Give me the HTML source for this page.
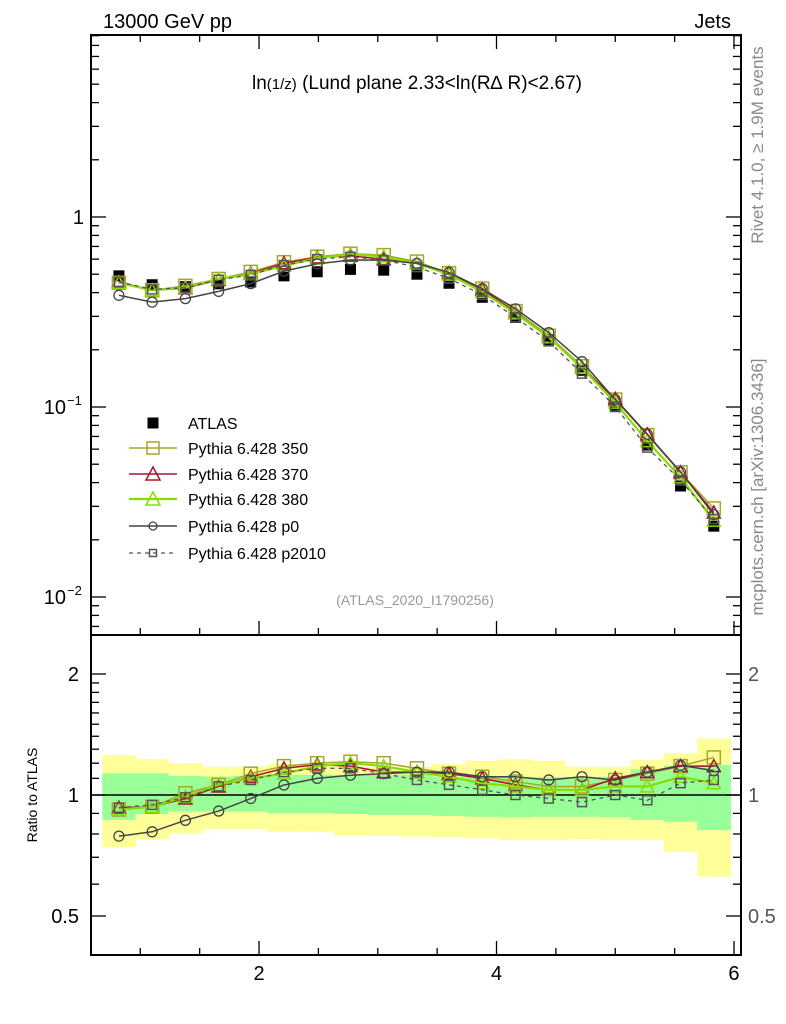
<!DOCTYPE html>
<html><head><meta charset="utf-8"><style>
html,body{margin:0;padding:0;background:#fff;}
svg{display:block;font-family:"Liberation Sans",Arial,sans-serif;}
</style></head><body>
<svg id="chart" width="786" height="1024" viewBox="0 0 786 1024" xmlns="http://www.w3.org/2000/svg">
<rect x="0" y="0" width="786" height="1024" fill="#fff"/>
<g id="bands"></g>
<g id="axes"></g>
<g id="series"></g>
<text x="103" y="28" font-size="20">13000 GeV pp</text>
<text x="731" y="28" font-size="20" text-anchor="end">Jets</text>
<text x="417" y="89" font-size="19" text-anchor="middle">ln<tspan font-size="15">(1/z)</tspan> (Lund plane 2.33&lt;ln(R∆ R)&lt;2.67)</text>
<text x="415" y="605" font-size="14" fill="#999" text-anchor="middle">(ATLAS_2020_I1790256)</text>
<text transform="translate(763,145) rotate(-90)" font-size="17" fill="#888" text-anchor="middle">Rivet 4.1.0, ≥ 1.9M events</text>
<text transform="translate(763,487) rotate(-90)" font-size="17" fill="#888" text-anchor="middle">mcplots.cern.ch [arXiv:1306.3436]</text>
<text transform="translate(37,795) rotate(-90)" font-size="14" text-anchor="middle">Ratio to ATLAS</text>
<g id="legend"></g>
</svg>
<script>
const xCenters = [0.82,1.10,1.38,1.66,1.93,2.21,2.49,2.77,3.05,3.33,3.60,3.88,4.16,4.44,4.72,5.00,5.27,5.55,5.83];
const atlas = [0.49,0.44,0.43,0.445,0.455,0.49,0.515,0.53,0.525,0.50,0.448,0.378,0.296,0.226,0.156,0.1004,0.063,0.0384,0.0236];
const r350 = [0.92,0.935,1.01,1.06,1.13,1.18,1.2,1.21,1.2,1.165,1.13,1.11,1.08,1.05,1.05,1.09,1.13,1.18,1.24];
const r370 = [0.93,0.935,0.98,1.05,1.11,1.165,1.19,1.18,1.14,1.14,1.13,1.10,1.06,1.03,1.03,1.10,1.14,1.18,1.18];
const r380 = [0.92,0.935,0.99,1.06,1.10,1.13,1.18,1.2,1.18,1.14,1.11,1.07,1.05,1.03,1.03,1.05,1.05,1.11,1.07];
const rp0 = [0.79,0.81,0.865,0.912,0.98,1.059,1.10,1.12,1.13,1.14,1.14,1.11,1.11,1.09,1.11,1.09,1.14,1.185,1.15];
const rp2010 = [0.93,0.945,0.987,1.05,1.09,1.14,1.165,1.165,1.13,1.09,1.06,1.03,1.0,0.98,0.96,1.0,0.97,1.07,1.09];
const yellowHi = [1.257,1.227,1.199,1.176,1.176,1.194,1.194,1.176,1.176,1.176,1.194,1.217,1.227,1.217,1.176,1.176,1.222,1.27,1.383];
const yellowLo = [0.741,0.776,0.803,0.822,0.822,0.81,0.81,0.795,0.79,0.788,0.785,0.78,0.773,0.773,0.776,0.773,0.773,0.722,0.626];
const greenHi = [1.132,1.132,1.115,1.111,1.115,1.123,1.123,1.123,1.123,1.123,1.111,1.111,1.107,1.107,1.107,1.111,1.159,1.181,1.188];
const greenLo = [0.867,0.897,0.909,0.909,0.909,0.90,0.90,0.897,0.892,0.892,0.887,0.883,0.88,0.883,0.883,0.88,0.867,0.858,0.818];
const xTicks = [2,4,6];
const mainTicks = [0.01,0.1,1];
const mainTickLabels = ["10","10","1"];
const mainTickExp = ["−2","−1",""];
const ratioTicks = [0.5,1,2];
const ratioTickLabels = ["0.5","1","2"];

const NS="http://www.w3.org/2000/svg";
const L=91,R=741,T=35,MB=635,RB=955;
const X0=0.585,X1=6.059;
const sx=v=>L+(v-X0)/(X1-X0)*(R-L);
const sy=v=>217-Math.log10(v)*190;
const sr=v=>795-Math.log10(v)*402;
function mk(tag,attrs,parent){const e=document.createElementNS(NS,tag);for(const k in attrs)e.setAttribute(k,attrs[k]);parent.appendChild(e);return e;}
const axes=document.getElementById('axes'),series=document.getElementById('series'),bands=document.getElementById('bands'),legend=document.getElementById('legend');
const bw=(xCenters[1]-xCenters[0]);

for(let i=0;i<xCenters.length;i++){
  const x0=sx(xCenters[i]-bw/2),x1=sx(xCenters[i]+bw/2);
  const y=mk('rect',{x:x0,y:sr(yellowHi[i]),width:x1-x0+0.5,height:sr(yellowLo[i])-sr(yellowHi[i]),fill:'#ffff99'},bands);
  
  
  const g=mk('rect',{x:x0,y:sr(greenHi[i]),width:x1-x0+0.5,height:sr(greenLo[i])-sr(greenHi[i]),fill:'#99ff99'},bands);
  
  
}
for(const [t,b] of [[T,MB],[MB,RB]]){
  const f=mk('rect',{x:L,y:t,width:R-L,height:b-t,fill:'none',stroke:'#000','stroke-width':2},axes);
  
  
}
const ref=mk('line',{x1:L,x2:R,y1:sr(1),y2:sr(1),stroke:'#000','stroke-width':1.5},axes);


for(let v=1;v<=6.001;v+=0.5){
  const major=Math.abs(v-Math.round(v/2)*2)<1e-6;
  const len=major?14:7;
  for(const yb of [MB,RB]) mk('line',{x1:sx(v),x2:sx(v),y1:yb,y2:yb-len,stroke:'#000','stroke-width':1.3},axes);
  mk('line',{x1:sx(v),x2:sx(v),y1:T,y2:T+len,stroke:'#000','stroke-width':1.3},axes);
}
xTicks.forEach(v=>{const t=mk('text',{x:sx(v),y:980,'font-size':20,'text-anchor':'middle'},axes);t.textContent=v;

});
for(let d=-3;d<=0;d++)for(let m=1;m<=9;m++){
  const v=m*Math.pow(10,d);const y=sy(v);if(y<T||y>MB)continue;
  const len=m===1?15:8;
  mk('line',{x1:L,x2:L+len,y1:y,y2:y,stroke:'#000','stroke-width':1.3},axes);
  mk('line',{x1:R,x2:R-len,y1:y,y2:y,stroke:'#000','stroke-width':1.3},axes);
}
mainTicks.forEach((v,i)=>{const t=mk('text',{x:mainTickExp[i]?66:84,y:sy(v)+7,'font-size':20,'text-anchor':'end'},axes);t.textContent=mainTickLabels[i];


if(mainTickExp[i]){const s=mk('text',{x:67,y:sy(v)-2,'font-size':13},axes);s.textContent=mainTickExp[i];}});
for(let v=0.4;v<=2.51;v+=0.1){
  const vv=Math.round(v*10)/10;if(vv>2&&vv<2.5)continue;
  const y=sr(vv);if(y<MB||y>RB)continue;
  const len=(vv===0.5||vv===1||vv===2)?15:8;
  mk('line',{x1:L,x2:L+len,y1:y,y2:y,stroke:'#000','stroke-width':1.3},axes);
  mk('line',{x1:R,x2:R-len,y1:y,y2:y,stroke:'#000','stroke-width':1.3},axes);
}
ratioTicks.forEach((v,i)=>{
  const t=mk('text',{x:79,y:sr(v)+7,'font-size':20,'text-anchor':'end'},axes);t.textContent=ratioTickLabels[i];
  
  
  const t2=mk('text',{x:748,y:sr(v)+7,'font-size':20,fill:'#555'},axes);t2.textContent=ratioTickLabels[i];
  
  
});

function marker(type,x,y,col,size,parent){
  if(type==='sq') return mk('rect',{x:x-size/2,y:y-size/2,width:size,height:size,fill:'none',stroke:col,'stroke-width':1.5},parent);
  if(type==='tri') return mk('polygon',{points:`${x},${y-size/2-1} ${x-size/2-1},${y+size/2} ${x+size/2+1},${y+size/2}`,fill:'none',stroke:col,'stroke-width':1.5},parent);
  if(type==='circ') return mk('circle',{cx:x,cy:y,r:size/2,fill:'none',stroke:col,'stroke-width':1.3},parent);
  if(type==='full') return mk('rect',{x:x-size/2,y:y-size/2,width:size,height:size,fill:col},parent);
}
const defs=[
  {name:'350',r:r350,col:'#a6a628',m:'sq',s:13,w:1.5,dash:''},
  {name:'370',r:r370,col:'#b01030',m:'tri',s:11,w:1.5,dash:''},
  {name:'380',r:r380,col:'#88dd00',m:'tri',s:11,w:2.2,dash:''},
  {name:'p0',r:rp0,col:'#444',m:'circ',s:10,w:1.5,dash:''},
  {name:'p2010',r:rp2010,col:'#555',m:'sq',s:9,w:1.3,dash:'4,4'},
];
const ag=mk('g',{},series);


atlas.forEach((v,i)=>{const p=marker('full',sx(xCenters[i]),sy(v),'#000',11,ag);

});
defs.forEach(d=>{
  const g=mk('g',{},series);
  
  
  const mainPts=d.r.map((r,i)=>[sx(xCenters[i]),sy(atlas[i]*r)]);
  const ratPts=d.r.map((r,i)=>[sx(xCenters[i]),sr(r)]);
  for(const pts of [mainPts,ratPts]){
    const pl=mk('polyline',{points:pts.map(p=>p.join(',')).join(' '),fill:'none',stroke:d.col,'stroke-width':d.w,'stroke-dasharray':d.dash},g);
    
    
    pts.forEach(p=>{const m=marker(d.m,p[0],p[1],d.col,d.s,g);
    
    });
  }
});
const legY=[423,448,474,499,526,553];
const legLabels=['ATLAS','Pythia 6.428 350','Pythia 6.428 370','Pythia 6.428 380','Pythia 6.428 p0','Pythia 6.428 p2010'];
legLabels.forEach((lab,i)=>{
  const g=mk('g',{},legend);
  
  
  const y=legY[i];
  if(i===0) marker('full',153,y,'#000',11,g);
  else{const d=defs[i-1];
    mk('line',{x1:129,x2:177,y1:y,y2:y,stroke:d.col,'stroke-width':d.w,'stroke-dasharray':d.dash},g);
    marker(d.m,153,y,d.col,i===5?7:(d.m==='circ'?8:12),g);}
  const t=mk('text',{x:188,y:y+6,'font-size':16},g);t.textContent=lab;
});
</script>
</body></html>
